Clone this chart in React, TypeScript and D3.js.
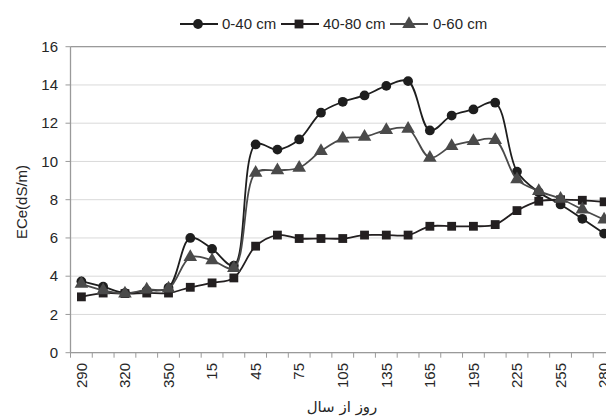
import React from "react";
import * as d3 from "d3";

const categories = ["290","305","320","335","350","365","15","30","45","60","75","90","105","120","135","150","165","180","195","210","225","240","255","270","280"];
const shownLabels = ["290","320","350","15","45","75","105","135","165","195","225","255","280"];
const s040 = [3.73,3.45,3.12,3.25,3.4,6.0,5.43,4.55,10.89,10.62,11.15,12.55,13.12,13.45,13.95,14.2,11.62,12.4,12.72,13.07,9.47,8.39,7.75,7.0,6.23];
const s4080 = [2.92,3.12,3.09,3.12,3.12,3.42,3.65,3.91,5.57,6.15,5.97,5.97,5.97,6.15,6.15,6.15,6.61,6.61,6.61,6.7,7.43,7.92,8.0,7.97,7.89];
const s060 = [3.6,3.26,3.09,3.3,3.35,5.0,4.83,4.43,9.41,9.53,9.67,10.54,11.19,11.29,11.64,11.71,10.19,10.8,11.06,11.12,9.06,8.45,8.05,7.49,6.96];
const yTicks = [0,2,4,6,8,10,12,14,16];
const seriesNames = ["0-40 cm","40-80 cm","0-60 cm"];

const W = 606, H = 418;
const left = 70.5, right = 615, top = 46.7, bottom = 352.7;
const FONT = "Liberation Sans, Arial, sans-serif";

export default function App() {
  const x = d3.scaleBand<string>().domain(categories).range([left, right]).padding(0);
  const y = d3.scaleLinear().domain([0, 16]).range([bottom, top]);
  const cx = (c: string) => (x(c) as number) + x.bandwidth() / 2;

  const series = [
    { name: seriesNames[0], data: s040, color: "#1e1e1e", sym: d3.symbolCircle, size: 75 },
    { name: seriesNames[1], data: s4080, color: "#231f20", sym: d3.symbolSquare, size: 78 },
    { name: seriesNames[2], data: s060, color: "#4a4a4a", sym: d3.symbolTriangle, size: 80 },
  ];

  const line = d3.line<number>()
    .x((_, i) => cx(categories[i]))
    .y((d) => y(d))
    .curve(d3.curveCatmullRom.alpha(0.5));

  const legendPos = [
    { x0: 180, mx: 198, tx: 222 },
    { x0: 281, mx: 299, tx: 323 },
    { x0: 390, mx: 409, tx: 433 },
  ];

  return (
    <svg width={W} height={H} style={{ position: "absolute", left: 0, top: 0, background: "#fff" }} fontFamily={FONT}>
      <rect x={0} y={0} width={W} height={H} fill="#fff" />
      {yTicks.map((t) => (
        <line key={"g" + t} x1={left} x2={right} y1={y(t)} y2={y(t)} stroke="#d9d9d9" strokeWidth={1} />
      ))}
      <line x1={left} x2={right} y1={top} y2={top} stroke="#9a9a9a" strokeWidth={1.3} />
      <line x1={left} x2={left} y1={top} y2={bottom} stroke="#9a9a9a" strokeWidth={1.3} />
      {yTicks.map((t) => (
        <g key={"yt" + t}>
          <line x1={left - 5} x2={left} y1={y(t)} y2={y(t)} stroke="#9a9a9a" strokeWidth={1} />
          <text x={58} y={y(t)} dy="0.35em" textAnchor="end" fontSize={15} fill="#262626">{t}</text>
        </g>
      ))}
      <line x1={left} x2={right} y1={bottom} y2={bottom} stroke="#9a9a9a" strokeWidth={1.3} />
      {categories.map((c) => (
        <line key={"xt" + c} x1={x(c) as number} x2={x(c) as number} y1={bottom} y2={bottom + 5} stroke="#9a9a9a" strokeWidth={1} />
      ))}
      {shownLabels.map((c) => (
        <text key={"xl" + c} transform={`translate(${cx(c)},${363}) rotate(-90)`} dy="0.35em" textAnchor="end" fontSize={15} fill="#262626">{c}</text>
      ))}
      <text transform={`translate(27,202) rotate(-90)`} textAnchor="middle" fontSize={15} fill="#262626">ECe(dS/m)</text>
      <text x={342} y={412} textAnchor="middle" fontSize={15} fill="#262626" fontFamily="DejaVu Sans, Noto Sans, sans-serif">روز از سال</text>
      {series.map((s) => (
        <g key={s.name}>
          <path d={line(s.data) || ""} fill="none" stroke={s.color} strokeWidth={1.8} />
          {s.data.map((v, i) => (
            <path key={i} d={d3.symbol().type(s.sym).size(s.size)() || ""} transform={`translate(${cx(categories[i])},${y(v)})`} fill={s.color} />
          ))}
        </g>
      ))}
      {series.map((s, i) => (
        <g key={"lg" + s.name}>
          <line x1={legendPos[i].x0} x2={legendPos[i].x0 + 38} y1={24} y2={24} stroke={s.color} strokeWidth={1.8} />
          <path d={d3.symbol().type(s.sym).size(s.size)() || ""} transform={`translate(${legendPos[i].mx},24)`} fill={s.color} />
          <text x={legendPos[i].tx} y={24} dy="0.35em" fontSize={15} fill="#262626">{s.name}</text>
        </g>
      ))}
    </svg>
  );
}
